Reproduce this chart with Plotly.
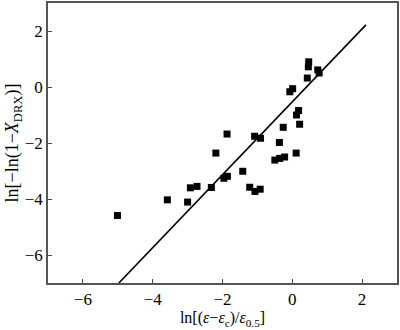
import plotly.graph_objects as go

x_vals = [-5.01, -3.58, -3.00, -2.92, -2.73, -2.32, -2.19, -1.96, -1.86, -1.87,
          -1.42, -1.22, -1.07, -0.92, -1.08, -0.91, -0.50, -0.36, -0.22, -0.37,
          -0.26, 0.11, 0.21, 0.12, 0.18, -0.07, 0.01, 0.43, 0.46, 0.47, 0.73, 0.77]
y_vals = [-4.59, -4.03, -4.11, -3.60, -3.55, -3.59, -2.36, -3.26, -3.19, -1.68,
          -3.01, -3.58, -3.73, -3.65, -1.76, -1.83, -2.61, -2.55, -2.50, -1.98,
          -1.44, -2.36, -1.33, -1.00, -0.84, -0.17, -0.06, 0.32, 0.72, 0.90, 0.61, 0.50]

fit_x = [-4.97, 2.11]
fit_y = [-7.0, 2.22]

tick_vals = [-6, -4, -2, 0, 2]
tick_text = ["\u22126", "\u22124", "\u22122", "0", "2"]

font_family = "Liberation Serif"

fig = go.Figure()
fig.add_trace(go.Scatter(x=fit_x, y=fit_y, mode="lines",
                         line=dict(color="black", width=1.6), showlegend=False))
fig.add_trace(go.Scatter(x=x_vals, y=y_vals, mode="markers",
                         marker=dict(symbol="square", size=7, color="black"),
                         showlegend=False))

axis_common = dict(
    tickvals=tick_vals, ticktext=tick_text, ticks="inside", ticklen=4,
    tickwidth=1, tickcolor="#444", showgrid=False, zeroline=False,
    showline=True, linecolor="#555", linewidth=1.5, mirror=True,
    tickfont=dict(family=font_family, size=17, color="black"),
)

fig.update_layout(
    width=400, height=330,
    margin=dict(l=48, r=1, t=1, b=47),
    paper_bgcolor="white", plot_bgcolor="white",
    font=dict(family=font_family, color="black"),
    xaxis=dict(range=[-7, 3], **axis_common,
               title=dict(text="ln[(<i>\u03b5</i>\u2212<i>\u03b5</i><sub>c</sub>)/<i>\u03b5</i><sub>0.5</sub>]",
                          font=dict(family=font_family, size=16), standoff=4)),
    yaxis=dict(range=[-7, 3], **axis_common,
               title=dict(text="ln[\u2212ln(1\u2212<i>X</i><sub>DRX</sub>)]",
                          font=dict(family=font_family, size=18), standoff=0)),
)

fig.write_html("out.html")
